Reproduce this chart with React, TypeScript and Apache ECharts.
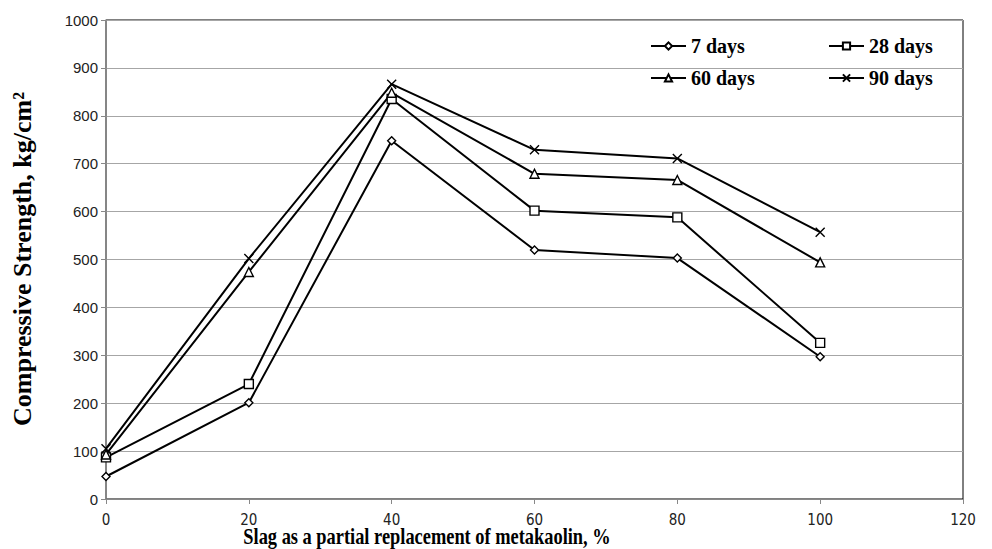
import React, { useEffect, useRef } from "react";
import * as echarts from "echarts";

const xValues = [0, 20, 40, 60, 80, 100];
const days7 = [47, 201, 748, 520, 503, 297];
const days28 = [87, 240, 835, 602, 588, 326];
const days60 = [93, 474, 848, 679, 666, 494];
const days90 = [105, 502, 866, 729, 711, 557];

const seriesNames = ["7 days", "28 days", "60 days", "90 days"];

const CROSS = "path://M0,0L10,10M0,10L10,0";

export default function App() {
  const ref = useRef<HTMLDivElement>(null);
  useEffect(() => {
    if (!ref.current) return;
    const chart = echarts.init(ref.current, undefined, { renderer: "svg" });
    const mk = (name: string, data: number[], symbol: string, size: number) => ({
      name,
      type: "line",
      data: xValues.map((x, i) => [x, data[i]]),
      symbol,
      symbolSize: size,
      showAllSymbol: true,
      lineStyle: { color: "#000", width: 2 },
      itemStyle: { color: "#fff", borderColor: "#000", borderWidth: 1.4 },
      emphasis: { disabled: true },
      z: 3,
    });
    const legendText = {
      fontFamily: "'Liberation Serif', 'Times New Roman', serif",
      fontWeight: "bold" as const,
      fontSize: 20,
      color: "#000",
    };
    const lg = (name: string, left: number, top: number) => ({
      data: [name],
      left,
      top,
      itemWidth: 35,
      itemHeight: 9,
      textStyle: legendText,
      padding: 0,
      selectedMode: false,
    });
    chart.setOption({
      animation: false,
      backgroundColor: "#fff",
      grid: {
        left: 106,
        right: 29,
        top: 20,
        bottom: 50,
        show: true,
        borderColor: "#000",
        borderWidth: 1,
        backgroundColor: "transparent",
      },
      legend: [
        lg(seriesNames[0], 650, 36),
        lg(seriesNames[1], 828, 36),
        lg(seriesNames[2], 650, 68),
        lg(seriesNames[3], 828, 68),
      ],
      xAxis: {
        type: "value",
        min: 0,
        max: 120,
        interval: 20,
        splitLine: { show: false },
        axisLine: { show: true, lineStyle: { color: "#888", width: 1 } },
        axisTick: { show: true, inside: false, length: 5, lineStyle: { color: "#888" } },
        axisLabel: {
          margin: 13,
          fontFamily: "'Liberation Sans Narrow', 'DejaVu Sans Condensed', 'Liberation Sans', sans-serif",
          fontSize: 15,
          color: "#222",
        },
      },
      yAxis: {
        type: "value",
        min: 0,
        max: 1000,
        interval: 100,
        splitLine: { show: true, lineStyle: { color: "#a6a6a6", width: 1 } },
        axisLine: { show: true, lineStyle: { color: "#888", width: 1.5 } },
        axisTick: { show: true, inside: false, length: 5, lineStyle: { color: "#888" } },
        axisLabel: {
          margin: 8,
          fontFamily: "'Liberation Sans', Arial, sans-serif",
          fontSize: 15,
          color: "#222",
          formatter: (v: number) => String(v),
        },
      },
      graphic: [
        {
          type: "text",
          x: 427,
          y: 536,
          scaleX: 0.8,
          style: {
            text: "Slag as a partial replacement of metakaolin, %",
            fontFamily: "'Liberation Serif', 'Times New Roman', serif",
            fontWeight: "bold",
            fontSize: 23,
            fill: "#000",
            textAlign: "center",
            textVerticalAlign: "middle",
          },
        },
        {
          type: "text",
          x: 22,
          y: 259,
          rotation: Math.PI / 2,
          style: {
            text: "Compressive Strength, kg/cm²",
            fontFamily: "'Liberation Serif', 'Times New Roman', serif",
            fontWeight: "bold",
            fontSize: 26,
            fill: "#000",
            textAlign: "center",
            textVerticalAlign: "middle",
          },
        },
      ],
      series: [
        mk(seriesNames[0], days7, "diamond", 8),
        mk(seriesNames[1], days28, "rect", 9),
        mk(seriesNames[2], days60, "triangle", 9),
        mk(seriesNames[3], days90, CROSS, 9),
      ],
    });
    return () => chart.dispose();
  }, []);
  return <div ref={ref} style={{ width: 992, height: 549, position: "absolute", left: 0, top: 0 }} />;
}
